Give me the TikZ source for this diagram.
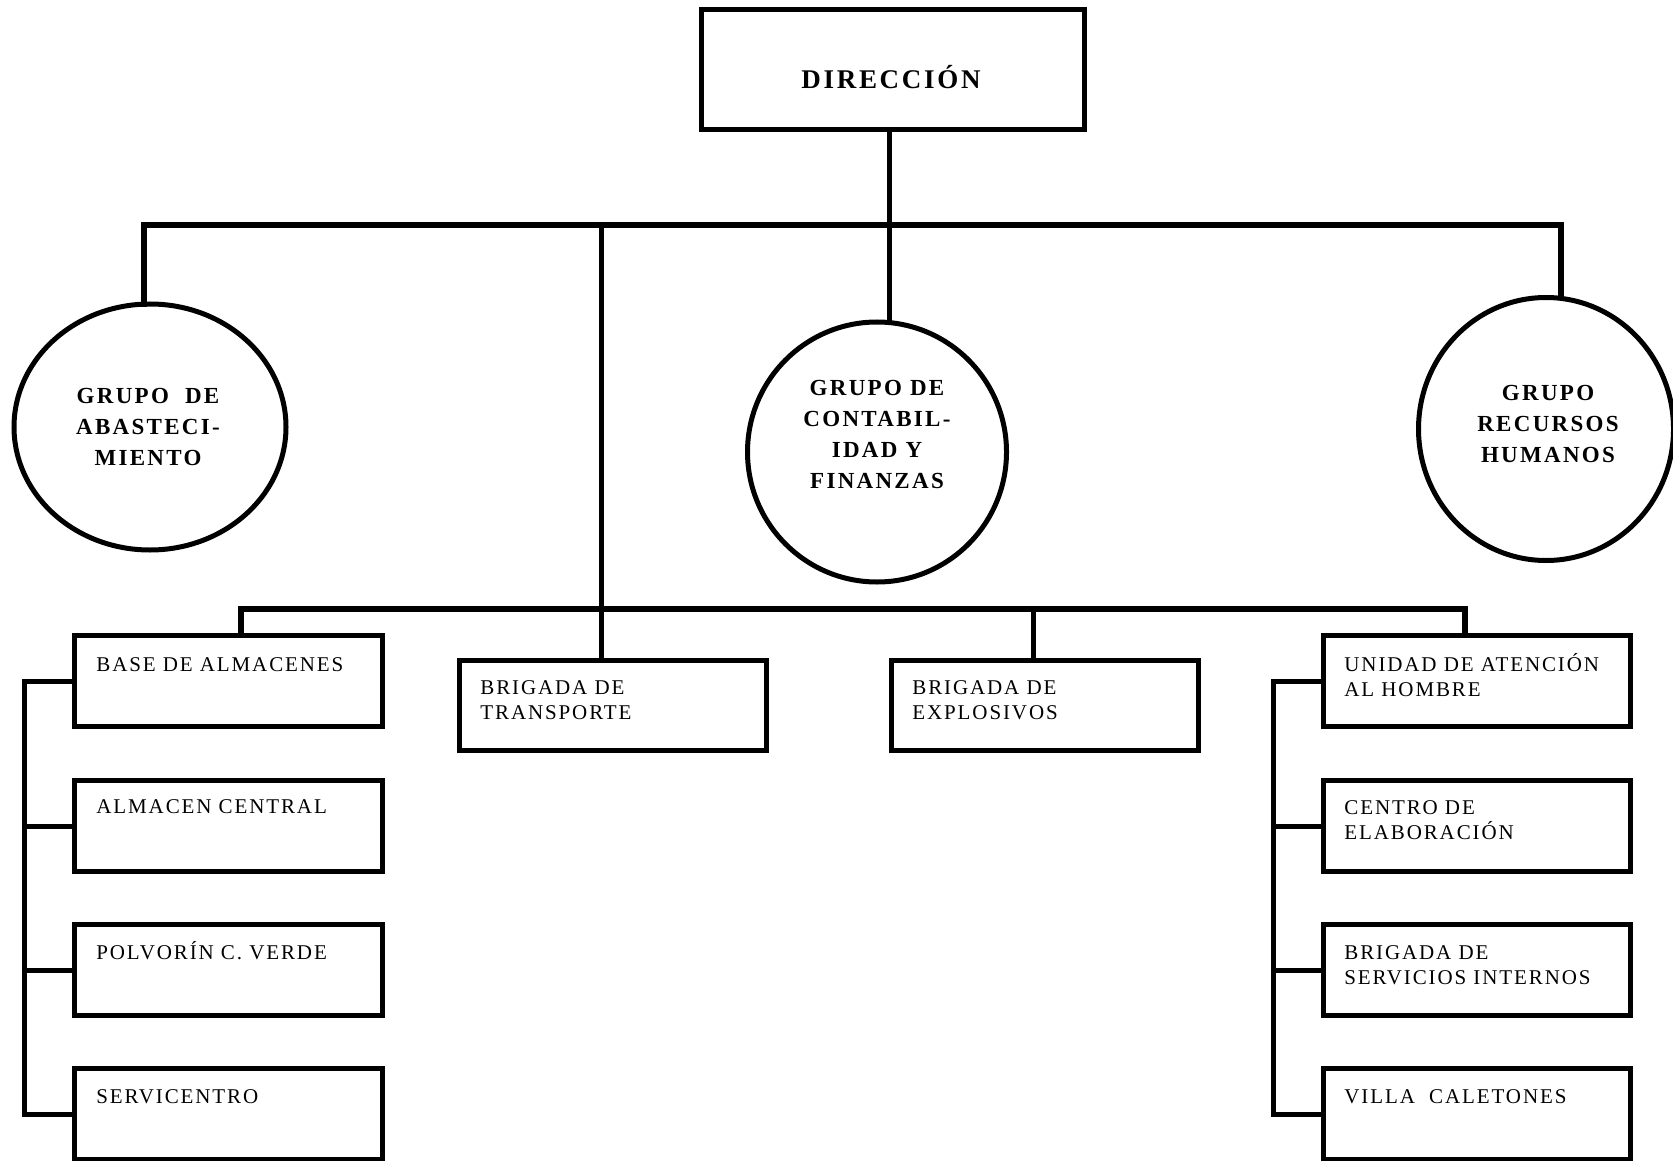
\documentclass[tikz,border=0pt]{standalone}
\usepackage{fontspec}
\setmainfont{Liberation Serif}
\newfontfamily\boxfont[LetterSpace=9]{Liberation Serif}
\newfontfamily\headfont[LetterSpace=10]{Liberation Serif}
\usetikzlibrary{shapes.geometric}
\newcommand\tlines[1]{\vtop{\halign{##\hfil\cr#1\crcr}}}
\newcommand\clines[1]{\vtop{\halign{\hfil##\hfil\cr#1\crcr}}}
\begin{document}
\begin{tikzpicture}[x=0.5pt,y=-0.5pt,
  frame/.style={draw, line width=2.5pt, inner sep=0pt, outer sep=0pt},
  unitbox/.style={frame, minimum width=154pt, minimum height=45.5pt},
  midbox/.style={frame, minimum width=153.5pt, minimum height=45pt},
  oval/.style={frame, ellipse},
  conn/.style={line width=2.5pt, line cap=rect},
  busline/.style={line width=2.7pt, line cap=rect},
  lbl/.style={inner sep=0pt, anchor=base west, font=\boxfont\fontsize{10.5pt}{12.5pt}\selectfont},
  head/.style={inner sep=0pt, anchor=base, font=\headfont\bfseries\fontsize{11.5pt}{15.5pt}\selectfont},
]
\useasboundingbox (0,0) rectangle (1673,1160);
% top
\node[frame, minimum width=191.5pt, minimum height=60pt] (dir) at (893,69.5) {};
\node[head, font=\headfont\bfseries\fontsize{13.5pt}{16pt}\selectfont] (dirt) at (891,89) {DIRECCIÓN};
% groups
\node[oval, minimum width=136pt, minimum height=123pt] (aba) at (150,427) {};
\node[oval, minimum width=129.5pt, minimum height=130pt] (cont) at (877,452) {};
\node[oval, minimum width=127.5pt, minimum height=131.5pt] (rrhh) at (1546,429) {};
\node[head] (abat) at (148,403) {\clines{GRUPO\ \ DE\cr ABASTECI-\cr MIENTO}};
\node[head] (contt) at (877,395) {\clines{GRUPO DE\cr CONTABIL-\cr IDAD Y\cr FINANZAS}};
\node[head] (rrhht) at (1548,400) {\clines{GRUPO\cr RECURSOS\cr HUMANOS}};
% middle boxes
\node[midbox] (trans) at (613,705.5) {};
\node[midbox] (expl) at (1045,705.5) {};
\node[lbl] (transt) at (480,694) {\tlines{BRIGADA DE\cr TRANSPORTE}};
\node[lbl] (explt) at (912,694) {\tlines{BRIGADA DE\cr EXPLOSIVOS}};
% left column
\node[unitbox] (l1) at (228.5,681) {};
\node[unitbox] (l2) at (228.5,826) {};
\node[unitbox] (l3) at (228.5,970) {};
\node[unitbox] (l4) at (228.5,1114) {};
\node[lbl] (l1t) at (96,671) {BASE DE ALMACENES};
\node[lbl] (l2t) at (96,813) {ALMACEN CENTRAL};
\node[lbl] (l3t) at (96,959) {POLVORÍN C. VERDE};
\node[lbl] (l4t) at (96,1103) {SERVICENTRO};
% right column
\node[unitbox, minimum width=153.5pt] (r1) at (1477,681) {};
\node[unitbox, minimum width=153.5pt] (r2) at (1477,826) {};
\node[unitbox, minimum width=153.5pt] (r3) at (1477,970) {};
\node[unitbox, minimum width=153.5pt] (r4) at (1477,1114) {};
\node[lbl] (r1t) at (1344,671) {\tlines{UNIDAD DE ATENCIÓN\cr AL HOMBRE}};
\node[lbl] (r2t) at (1344,814) {\tlines{CENTRO DE\cr ELABORACIÓN}};
\node[lbl] (r3t) at (1344,959) {\tlines{BRIGADA DE\cr SERVICIOS INTERNOS}};
\node[lbl] (r4t) at (1344,1103) {VILLA\ \ CALETONES};
% connectors
\coordinate (b1L) at (144,225);
\coordinate (b1R) at (1561,225);
\coordinate (j0) at (889,225);
\coordinate (j1) at (601,225);
\coordinate (b2L) at (241,609);
\coordinate (b2R) at (1465,609);
\coordinate (j2) at (1033,609);
\coordinate (lb) at (24,681);
\coordinate (rb) at (1273,681);
\draw[busline] (aba.north -| b1L) -- (b1L) -- (b1R) -- (rrhh.north -| b1R);
\draw[conn] (dir.south -| j0) -- (j0 |- cont.north);
\draw[conn] (j1) -- (j1 |- trans.north);
\draw[busline] (l1.north -| b2L) -- (b2L) -- (b2R) -- (r1.north -| b2R);
\draw[conn] (j2) -- (j2 |- expl.north);
\draw[conn] (l1.west) -- (l1.west -| lb) -- (l4.west -| lb) -- (l4.west);
\draw[conn] (l2.west) -- (l2.west -| lb);
\draw[conn] (l3.west) -- (l3.west -| lb);
\draw[conn] (r1.west) -- (r1.west -| rb) -- (r4.west -| rb) -- (r4.west);
\draw[conn] (r2.west) -- (r2.west -| rb);
\draw[conn] (r3.west) -- (r3.west -| rb);
\end{tikzpicture}
\end{document}
